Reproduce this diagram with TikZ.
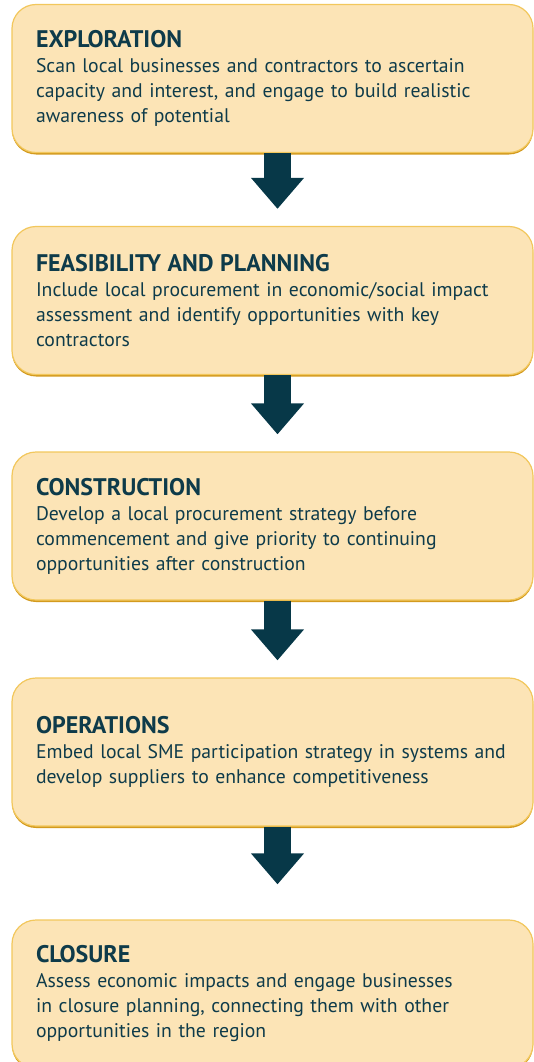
\documentclass[tikz,border=0pt]{standalone}
\usepackage{fontspec}
\setmainfont{PT Sans}
\usetikzlibrary{arrows.meta,shadows}

\definecolor{boxfill}{HTML}{FCE4B6}
\definecolor{boxline}{HTML}{F2C75C}
\definecolor{boxshade}{HTML}{D39A1E}
\definecolor{ink}{HTML}{0E3B4A}
\definecolor{arrowcol}{HTML}{073848}

\newcommand{\phasetitle}[1]{{\fontsize{24}{26}\selectfont\bfseries #1}\\}

\tikzset{
  phasebox/.style={rectangle, rounded corners=24pt, fill=boxfill, draw=boxline,
    line width=1.2pt, minimum height=148pt, text width=473pt, inner xsep=24pt,
    align=left, text=ink, font=\fontsize{19.7}{25}\selectfont,
    drop shadow={shadow xshift=0pt, shadow yshift=-2pt, fill=boxshade, opacity=1}},
  flowarrow/.style={draw=arrowcol, line width=27pt,
    -{Triangle[width=51pt,length=31pt]}, shorten >=17pt}
}

\begin{document}
\begin{tikzpicture}[x=1pt, y=1pt]
\useasboundingbox (0,0) rectangle (534,-1062);
\clip (0,0) rectangle (534,-1062);

\node[phasebox] (explore) at (272.5,-78.5) {\phasetitle{EXPLORATION}
Scan local businesses and contractors to ascertain\\
capacity and interest, and engage to build realistic\\
awareness of potential};

\node[phasebox] (plan) at (272.5,-300.5) {\phasetitle{FEASIBILITY AND PLANNING}
Include local procurement in economic/social impact\\
assessment and identify opportunities with key\\
contractors};

\node[phasebox] (build) at (272.5,-526) {\phasetitle{CONSTRUCTION}
Develop a local procurement strategy before\\
commencement and give priority to continuing\\
opportunities after construction};

\node[phasebox] (operate) at (272.5,-752) {\phasetitle{OPERATIONS}
Embed local SME participation strategy in systems and\\
develop suppliers to enhance competitiveness};

\node[phasebox] (close) at (272.5,-994) {\phasetitle{CLOSURE}
Assess economic impacts and engage businesses\\
in closure planning, connecting them with other\\
opportunities in the region};

% arrows between phases
\draw[flowarrow] ([xshift=5pt]explore.south) -- ([xshift=5pt]plan.north);
\draw[flowarrow] ([xshift=5pt]plan.south) -- ([xshift=5pt]build.north);
\draw[flowarrow] ([xshift=5pt]build.south) -- ([xshift=5pt]operate.north);
\draw[flowarrow, shorten >=35pt] ([xshift=5pt]operate.south) -- ([xshift=5pt]close.north);
\end{tikzpicture}
\end{document}
